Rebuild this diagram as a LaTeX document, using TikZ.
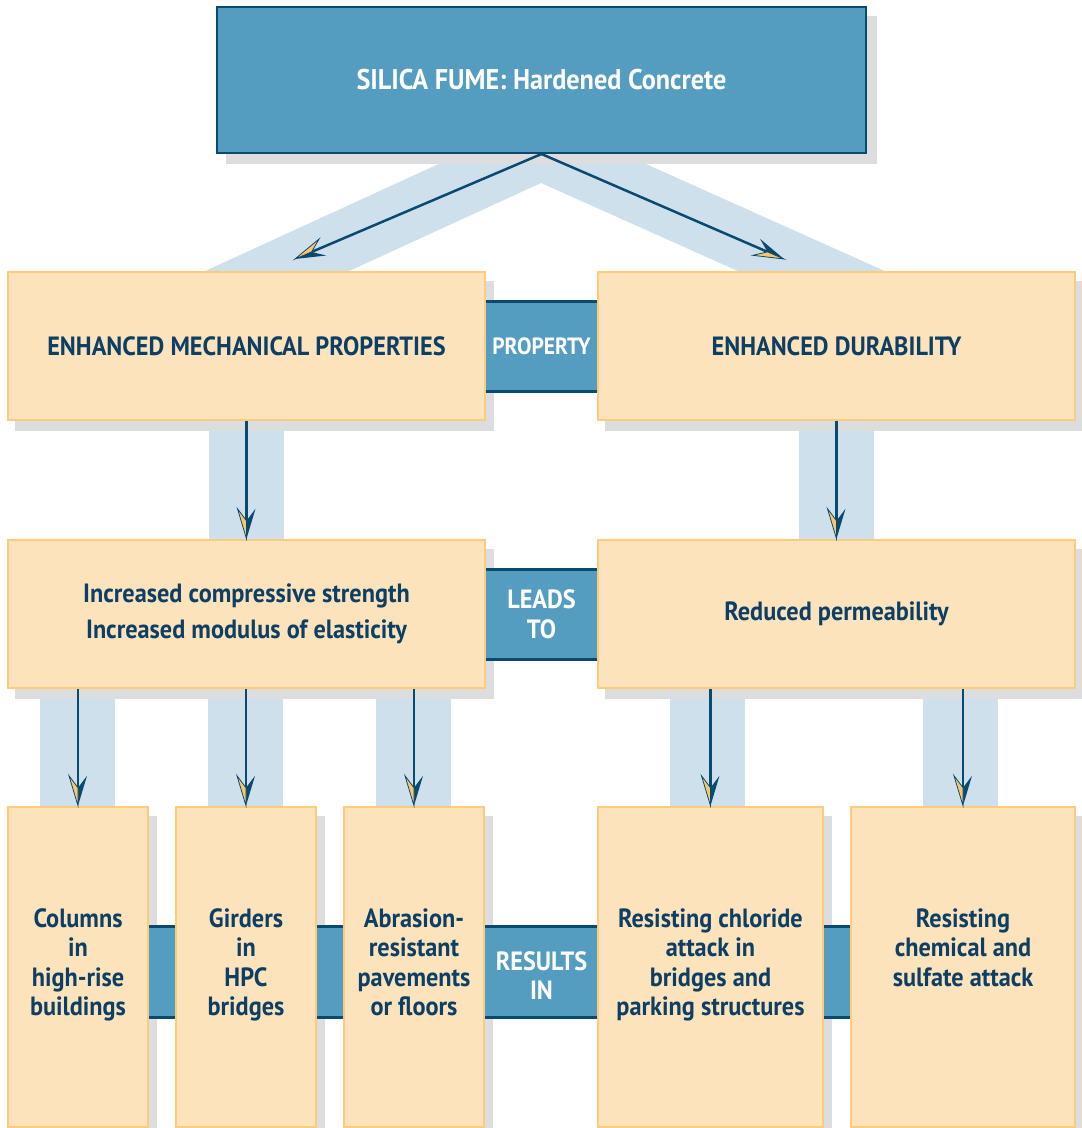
\documentclass[tikz,border=0pt]{standalone}
\usepackage{fontspec}
\newfontfamily\dfont{PT Sans}[FakeStretch=0.92]
\usetikzlibrary{decorations.markings}
\definecolor{navy}{HTML}{0B4A6F}
\definecolor{txt}{HTML}{0D3F64}
\definecolor{boxblue}{HTML}{549DC0}
\definecolor{peach}{HTML}{FCE3BC}
\definecolor{peachedge}{HTML}{FDCB7C}
\definecolor{bandc}{HTML}{CEE0EC}
\definecolor{shadowgray}{HTML}{DCDDDE}
\definecolor{tipyellow}{HTML}{F8C76B}
\pgfdeclarelayer{bandlayer}
\pgfdeclarelayer{shadowlayer}
\pgfdeclarelayer{barlayer}
\pgfsetlayers{bandlayer,shadowlayer,barlayer,main}
\begin{document}
\begin{tikzpicture}[x=1pt,y=-1pt,
  txtfont/.style={font=\dfont\bfseries\fontsize{26.4}{36}\selectfont},
  box/.style={draw=peachedge, line width=2.5pt, fill=peach, inner sep=0pt,
    text=txt, txtfont, align=center},
  topbox/.style={draw=navy, line width=2pt, fill=boxblue, inner sep=0pt,
    text=white, font=\dfont\bfseries\fontsize{28.5}{34}\selectfont},
  bar/.style={fill=boxblue, inner sep=0pt, text=white,
    font=\dfont\bfseries\fontsize{26.4}{29.5}\selectfont, align=center},
  barline/.style={draw=navy, line width=3pt},
  btext/.style={text=txt, font=\dfont\bfseries\fontsize{26.4}{29.5}\selectfont,
    align=center, inner sep=0pt},
  conn/.style={
    postaction={draw=navy, line width=2.5pt, shorten >=14pt},
    postaction={decorate, decoration={markings, mark=at position 1 with {
      \fill[navy] (0pt,0pt) -- (-30pt,9pt) -- (-18pt,0pt) -- cycle;
      \filldraw[fill=tipyellow, draw=navy, line width=0.8pt, line join=miter]
        (0pt,0pt) -- (-30pt,-9pt) -- (-18pt,0pt) -- cycle;}}}},
]
\useasboundingbox (0,0) rectangle (1082,1128);

% boxes
\node[topbox, minimum width=649pt, minimum height=146pt] (top) at (541.5,80) {SILICA FUME: Hardened Concrete};
\node[box, minimum width=477pt, minimum height=148pt] (mech) at (246.5,346) {ENHANCED MECHANICAL PROPERTIES};
\node[box, minimum width=477pt, minimum height=148pt] (dur) at (836.5,346) {ENHANCED DURABILITY};
\node[box, minimum width=477pt, minimum height=148pt] (strength) at (246.5,614) {Increased compressive strength\\Increased modulus of elasticity};
\node[box, minimum width=477pt, minimum height=148pt] (perm) at (836.5,614) {Reduced permeability};
\node[box, minimum width=140pt, minimum height=320pt] (col) at (78,967) {};
\node[box, minimum width=140pt, minimum height=320pt] (gird) at (246,967) {};
\node[box, minimum width=140pt, minimum height=320pt] (abr) at (414,967) {};
\node[box, minimum width=225pt, minimum height=320pt] (chl) at (710.5,967) {};
\node[box, minimum width=224pt, minimum height=320pt] (chem) at (963,967) {};

% bottom texts (base = last line)
\node[btext, anchor=base] (colT) at (78,1015.5) {Columns\\in\\high-rise\\buildings};
\node[btext, anchor=base] (girdT) at (246,1015.5) {Girders\\in\\HPC\\bridges};
\node[btext, anchor=base] (abrT) at (414,1015.5) {Abrasion-\\resistant\\pavements\\or floors};
\node[btext, anchor=base] (chlT) at (710.5,1015.5) {Resisting chloride\\attack in\\bridges and\\parking structures};
\node[btext, anchor=base] (chemT) at (963,986) {Resisting\\chemical and\\sulfate attack};

% connectors
\coordinate (lt) at (295,259);
\coordinate (rt) at (784,259);
\path[conn] (top.south) -- (lt);
\path[conn] (top.south) -- (rt);
\path[conn] (mech.south) -- (strength.north);
\path[conn] (dur.south) -- (perm.north);
\path[conn] (strength.south -| col.north) -- (col.north);
\path[conn] (strength.south -| gird.north) -- (gird.north);
\path[conn] (strength.south -| abr.north) -- (abr.north);
\path[conn] (perm.south -| chl.north) -- (chl.north);
\path[conn] (perm.south -| chem.north) -- (chem.north);

% connecting bars
\begin{pgfonlayer}{barlayer}
\node[bar, minimum width=121pt, minimum height=89pt, font=\dfont\bfseries\fontsize{23.5}{29.5}\selectfont] (prop) at (541.5,346.5) {PROPERTY};
\node[bar, minimum width=121pt, minimum height=89pt] (leads) at (541.5,614.5) {LEADS\\TO};
\node[bar, minimum width=711pt, minimum height=90pt] (resbar) at (499.5,972) {};
\node[bar, fill=none] (res) at (541.5,975.5) {RESULTS\\IN};
\foreach \b in {prop,leads,resbar}{
  \draw[barline] (\b.north west) -- (\b.north east);
  \draw[barline] (\b.south west) -- (\b.south east);
}
\end{pgfonlayer}

% shadows
\begin{pgfonlayer}{shadowlayer}
\fill[shadowgray] ([shift={(10,10)}]top.north west) rectangle ([shift={(10,10)}]top.south east);
\foreach \n in {mech,dur,strength,perm,col,gird,abr,chl,chem}{
  \fill[shadowgray] ([shift={(8,10)}]\n.north west) rectangle ([shift={(8,10)}]\n.south east);
}
\end{pgfonlayer}

% light bands
\begin{pgfonlayer}{bandlayer}
\fill[bandc] (203,272) -- (541,117) -- (887,272) -- (740,272) -- (541,183) -- (347,272) -- cycle;
\fill[bandc] ([xshift=-38pt]mech.south) rectangle ([xshift=37pt]strength.north);
\fill[bandc] ([xshift=-38pt]dur.south) rectangle ([xshift=37pt]perm.north);
\fill[bandc] ([xshift=-38pt]strength.south -| col.north) rectangle ([xshift=37pt]col.north);
\fill[bandc] ([xshift=-38pt]strength.south -| gird.north) rectangle ([xshift=37pt]gird.north);
\fill[bandc] ([xshift=-38pt]strength.south -| abr.north) rectangle ([xshift=37pt]abr.north);
\fill[bandc] ([xshift=-41pt]perm.south -| chl.north) rectangle ([xshift=34pt]chl.north);
\fill[bandc] ([xshift=-40pt]perm.south -| chem.north) rectangle ([xshift=35pt]chem.north);
\end{pgfonlayer}
\end{tikzpicture}
\end{document}
